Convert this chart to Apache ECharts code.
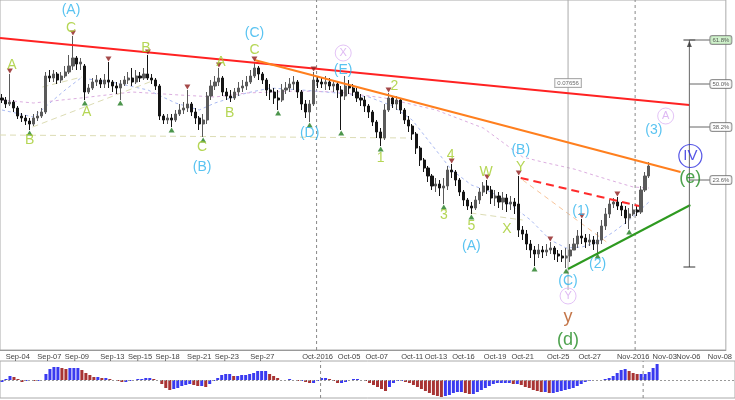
<!DOCTYPE html>
<html><head><meta charset="utf-8">
<script src="https://cdn.jsdelivr.net/npm/echarts@6/dist/echarts.min.js"></script>
<style>html,body{margin:0;padding:0;background:#fff}#c{width:735px;height:400px}</style>
</head><body><div id="c"></div>
<script>
// price bars: [open, close, low, high]
const ohlc = [
[0.7902,0.7900,0.7897,0.7906],[0.7900,0.7896,0.7892,0.7903],[0.7896,0.7898,0.7894,0.7926],[0.7898,0.7892,0.7888,0.7900],
[0.7892,0.7884,0.7881,0.7894],[0.7884,0.7882,0.7878,0.7887],[0.7882,0.7879,0.7875,0.7885],[0.7879,0.7876,0.7870,0.7882],
[0.7876,0.7882,0.7874,0.7886],[0.7882,0.7884,0.7879,0.7889],[0.7884,0.7888,0.7882,0.7892],[0.7888,0.7924,0.7886,0.7928],
[0.7924,0.7922,0.7918,0.7930],[0.7922,0.7926,0.7918,0.7930],[0.7926,0.7920,0.7916,0.7928],[0.7920,0.7924,0.7917,0.7928],
[0.7924,0.7928,0.7922,0.7934],[0.7928,0.7934,0.7926,0.7945],[0.7934,0.7942,0.7930,0.7964],[0.7942,0.7936,0.7930,0.7944],
[0.7936,0.7938,0.7930,0.7942],[0.7934,0.7908,0.7900,0.7936],[0.7908,0.7912,0.7906,0.7916],[0.7912,0.7918,0.7910,0.7922],
[0.7918,0.7920,0.7914,0.7925],[0.7920,0.7916,0.7912,0.7922],[0.7916,0.7920,0.7912,0.7926],[0.7920,0.7918,0.7912,0.7938],
[0.7918,0.7914,0.7908,0.7920],[0.7914,0.7912,0.7906,0.7918],[0.7912,0.7916,0.7900,0.7920],[0.7916,0.7920,0.7914,0.7924],
[0.7920,0.7922,0.7916,0.7928],[0.7922,0.7918,0.7914,0.7932],[0.7918,0.7924,0.7916,0.7930],[0.7924,0.7922,0.7918,0.7928],
[0.7922,0.7926,0.7920,0.7932],[0.7926,0.7922,0.7920,0.7945],[0.7922,0.7920,0.7916,0.7926],[0.7920,0.7914,0.7910,0.7922],
[0.7914,0.7884,0.7880,0.7916],[0.7884,0.7880,0.7876,0.7886],[0.7880,0.7882,0.7876,0.7886],[0.7882,0.7880,0.7873,0.7886],
[0.7880,0.7886,0.7878,0.7890],[0.7886,0.7890,0.7884,0.7896],[0.7890,0.7892,0.7886,0.7898],[0.7892,0.7896,0.7888,0.7910],
[0.7896,0.7888,0.7884,0.7898],[0.7888,0.7882,0.7876,0.7892],[0.7882,0.7876,0.7870,0.7884],[0.7876,0.7880,0.7863,0.7886],
[0.7880,0.7904,0.7876,0.7908],[0.7904,0.7914,0.7900,0.7920],[0.7914,0.7918,0.7910,0.7924],[0.7918,0.7922,0.7914,0.7932],
[0.7922,0.7908,0.7904,0.7924],[0.7908,0.7904,0.7900,0.7912],[0.7904,0.7902,0.7898,0.7910],[0.7902,0.7908,0.7900,0.7912],
[0.7908,0.7912,0.7904,0.7918],[0.7912,0.7914,0.7908,0.7920],[0.7914,0.7918,0.7910,0.7924],[0.7918,0.7924,0.7916,0.7930],
[0.7924,0.7932,0.7922,0.7938],[0.7932,0.7926,0.7920,0.7934],[0.7926,0.7920,0.7916,0.7928],[0.7920,0.7910,0.7904,0.7922],
[0.7910,0.7908,0.7900,0.7916],[0.7908,0.7902,0.7896,0.7912],[0.7902,0.7900,0.7890,0.7910],[0.7900,0.7910,0.7898,0.7916],
[0.7910,0.7912,0.7906,0.7918],[0.7912,0.7916,0.7908,0.7922],[0.7916,0.7918,0.7910,0.7924],[0.7918,0.7908,0.7902,0.7920],
[0.7908,0.7896,0.7890,0.7910],[0.7896,0.7888,0.7882,0.7900],[0.7888,0.7896,0.7878,0.7900],[0.7896,0.7920,0.7894,0.7928],
[0.7920,0.7918,0.7912,0.7924],[0.7918,0.7916,0.7912,0.7922],[0.7916,0.7918,0.7910,0.7924],[0.7918,0.7914,0.7910,0.7922],
[0.7914,0.7916,0.7908,0.7920],[0.7916,0.7910,0.7902,0.7918],[0.7910,0.7904,0.7870,0.7914],[0.7904,0.7914,0.7900,0.7924],
[0.7914,0.7912,0.7906,0.7920],[0.7912,0.7908,0.7904,0.7916],[0.7908,0.7902,0.7898,0.7912],[0.7902,0.7900,0.7894,0.7906],
[0.7900,0.7894,0.7888,0.7904],[0.7894,0.7888,0.7882,0.7896],[0.7888,0.7878,0.7874,0.7890],[0.7878,0.7868,0.7862,0.7880],
[0.7868,0.7862,0.7854,0.7872],[0.7862,0.7890,0.7860,0.7896],[0.7890,0.7902,0.7888,0.7907],[0.7902,0.7896,0.7892,0.7904],
[0.7896,0.7900,0.7890,0.7904],[0.7900,0.7890,0.7886,0.7902],[0.7890,0.7880,0.7876,0.7892],[0.7880,0.7874,0.7868,0.7884],
[0.7874,0.7866,0.7860,0.7876],[0.7866,0.7852,0.7846,0.7868],[0.7852,0.7840,0.7834,0.7854],[0.7840,0.7832,0.7828,0.7842],
[0.7832,0.7824,0.7818,0.7834],[0.7824,0.7814,0.7810,0.7826],[0.7814,0.7816,0.7808,0.7822],[0.7816,0.7812,0.7804,0.7820],
[0.7812,0.7814,0.7796,0.7822],[0.7814,0.7830,0.7810,0.7834],[0.7830,0.7828,0.7822,0.7836],[0.7828,0.7820,0.7814,0.7830],
[0.7820,0.7808,0.7804,0.7822],[0.7808,0.7800,0.7794,0.7810],[0.7800,0.7794,0.7790,0.7802],[0.7794,0.7792,0.7786,0.7798],
[0.7792,0.7800,0.7790,0.7804],[0.7800,0.7808,0.7796,0.7812],[0.7808,0.7814,0.7804,0.7818],[0.7814,0.7810,0.7806,0.7820],
[0.7810,0.7802,0.7796,0.7814],[0.7802,0.7804,0.7794,0.7810],[0.7804,0.7798,0.7792,0.7808],[0.7798,0.7802,0.7790,0.7808],
[0.7802,0.7796,0.7788,0.7806],[0.7796,0.7798,0.7790,0.7804],[0.7798,0.7794,0.7786,0.7802],[0.7796,0.7770,0.7763,0.7824],
[0.7770,0.7766,0.7760,0.7774],[0.7766,0.7756,0.7750,0.7770],[0.7756,0.7750,0.7742,0.7760],[0.7750,0.7746,0.7734,0.7754],
[0.7746,0.7750,0.7742,0.7756],[0.7750,0.7748,0.7742,0.7754],[0.7748,0.7750,0.7744,0.7756],[0.7750,0.7752,0.7746,0.7758],
[0.7752,0.7746,0.7740,0.7754],[0.7746,0.7744,0.7738,0.7750],[0.7744,0.7742,0.7738,0.7750],[0.7742,0.7744,0.7732,0.7752],
[0.7744,0.7750,0.7738,0.7756],[0.7750,0.7756,0.7750,0.7762],[0.7756,0.7764,0.7752,0.7770],[0.7764,0.7762,0.7756,0.7781],
[0.7762,0.7758,0.7752,0.7766],[0.7758,0.7760,0.7754,0.7766],[0.7760,0.7756,0.7750,0.7764],[0.7756,0.7760,0.7747,0.7768],
[0.7760,0.7774,0.7756,0.7780],[0.7774,0.7786,0.7770,0.7792],[0.7786,0.7796,0.7782,0.7800],[0.7796,0.7798,0.7792,0.7802],
[0.7798,0.7794,0.7790,0.7803],[0.7794,0.7790,0.7784,0.7798],[0.7790,0.7782,0.7776,0.7794],[0.7782,0.7786,0.7771,0.7792],
[0.7786,0.7790,0.7784,0.7796],[0.7790,0.7788,0.7784,0.7794],[0.7788,0.7810,0.7786,0.7814],[0.7810,0.7824,0.7808,0.7828],
[0.7824,0.7834,0.7822,0.7838]
];
// oscillator histogram, one value per bar
const macd = [
-0.0002,0.0001,0.0004,0.0003,0.0001,-0.0002,-0.0001,0.0000,-0.0001,-0.0001,0.0000,0.0006,0.0011,0.0013,0.0013,0.0012,
0.0011,0.0012,0.0012,0.0012,0.0010,0.0007,0.0005,0.0003,0.0003,0.0002,0.0002,0.0001,0.0000,-0.0001,-0.0002,-0.0002,
-0.0001,0.0000,0.0001,0.0001,0.0002,0.0002,0.0001,0.0000,-0.0004,-0.0008,-0.0010,-0.0009,-0.0008,-0.0006,-0.0005,-0.0004,
-0.0005,-0.0006,-0.0006,-0.0007,-0.0004,-0.0001,0.0002,0.0005,0.0006,0.0006,0.0004,0.0004,0.0005,0.0005,0.0006,0.0007,
0.0009,0.0009,0.0009,0.0006,0.0004,0.0002,0.0000,0.0000,0.0001,0.0000,-0.0001,-0.0001,-0.0002,-0.0003,-0.0003,-0.0001,
0.0002,0.0002,0.0001,-0.0001,-0.0003,-0.0003,-0.0002,0.0000,0.0001,0.0001,0.0000,-0.0001,-0.0003,-0.0005,-0.0007,-0.0009,
-0.0011,-0.0007,-0.0003,-0.0001,-0.0001,-0.0002,-0.0003,-0.0005,-0.0007,-0.0009,-0.0011,-0.0013,-0.0015,-0.0016,-0.0017,-0.0016,
-0.0015,-0.0013,-0.0012,-0.0012,-0.0013,-0.0014,-0.0014,-0.0012,-0.0010,-0.0008,-0.0006,-0.0004,-0.0003,-0.0003,-0.0003,-0.0003,
-0.0004,-0.0004,-0.0005,-0.0007,-0.0008,-0.0010,-0.0011,-0.0012,-0.0012,-0.0013,-0.0013,-0.0012,-0.0011,-0.0010,-0.0009,-0.0008,
-0.0006,-0.0004,-0.0002,-0.0001,0.0000,0.0000,0.0000,0.0001,0.0002,0.0004,0.0007,0.0010,0.0011,0.0009,0.0007,0.0006,
0.0006,0.0006,0.0008,0.0012,0.0016
];
const totalBars = 184;
const dateLabels = ['Sep-04','Sep-07','Sep-09','Sep-13','Sep-15','Sep-18','Sep-21','Sep-23','Sep-27','Oct-2016','Oct-05','Oct-07','Oct-11','Oct-13','Oct-16','Oct-19','Oct-21','Oct-25','Oct-27','Nov-2016','Nov-03','Nov-06','Nov-08'];
const dateBars = [4,12,19,28,35,42,50,57,66,80,88,95,104,110,117,125,132,141,149,160,168,174,182];
const periodSeparators = [79.75, 160.5];
// moving averages [bar, price]
const fastMA = [[0,0.7890],[8,0.7883],[16,0.7910],[20,0.7922],[29,0.7917],[37,0.7910],[44,0.7897],[50,0.7890],[54,0.7897],[62,0.7907],[68,0.7912],[76,0.7910],[85,0.7907],[93,0.7903],[99,0.7894],[104,0.7880],[109,0.7855],[114,0.7830],[119,0.7815],[124,0.7808],[129,0.7795],[134,0.7780],[139,0.7760],[143,0.7752],[147,0.7753],[151,0.7758],[155,0.7768],[159,0.7780],[164,0.7798]];
const slowMA = [[0,0.7900],[8,0.7897],[20,0.7902],[33,0.7908],[45,0.7905],[54,0.7903],[62,0.7907],[75,0.7909],[85,0.7908],[97,0.7902],[110,0.7890],[122,0.7872],[132,0.7843],[137,0.7838],[145,0.7831],[154,0.7820],[160,0.7813],[164,0.7812]];
const peakBars = [2,18,27,37,47,55,64,79,98,114,123,131,139,147,156];
const troughBars = [7,21,30,43,51,70,78,86,96,112,119,135,143,151,159];
// wave labels [text, bar, price]
const minorLabels = [['A',2.5,0.7935],['C',17.5,0.7972],['B',7,0.7860],['A',21.5,0.7888],['B',36.5,0.7952],['C',50.75,0.7853],['A',55.5,0.7938],['B',57.75,0.7887],['C',64,0.7950],['2',99.5,0.7914],['1',96,0.7842],['4',113.75,0.7845],['3',112,0.7785],['5',119,0.7774],['W',122.75,0.7828],['X',128,0.7771],['Y',131.5,0.7833]];
const intermediateLabels = [['(A)',17.5,0.7990],['(B)',50.75,0.7833],['(C)',64,0.7967],['(D)',78,0.7867],['(E)',86.5,0.7930],['(A)',119,0.7754],['(B)',131.5,0.7850],['(1)',146.75,0.7789],['(2)',151,0.7736],['(C)',143.5,0.7719],['(3)',165.25,0.7870]];
const circledLabels = [['X',86.5,0.7947],['Y',143.5,0.7704],['A',168.25,0.7884]];
const primaryLabels = [['IV',174.5,0.7844]];
const cycleLabels = [['y',143.5,0.7683]];
const triangleLabels = [['(d)',143.5,0.7660],['(e)',174.5,0.7822]];
// trend lines [[bar, price],[bar, price]]
const resistanceLine = [[-0.5,0.7962],[174.25,0.7895]];
const triangleTop = [[64,0.7940],[172,0.7828]];
const triangleBottom = [[143.5,0.7731],[174.5,0.7795]];
const channelTop = [[131.5,0.7822],[161.5,0.7794]];
const faintLine = [[132,0.7820],[153.25,0.7758]];
const guideLines = [[[-0.5,0.7865],[103.75,0.7862]],[[7.75,0.7873],[38.75,0.7920]],[[10.25,0.7913],[20.25,0.7923]],[[118.75,0.7787],[132,0.7780]]];
const measureLine = [[143.5,0.8000],[143.5,0.7710]];
const measureText = ['0.07656', 143.5, 0.7917];
const fibBar = 174.25;
const fibTop = 0.7960, fibBase = 0.7733;
const fibLevels = ['61.8%','50.0%','38.2%','23.6%'];
const fibPrices = [0.7960,0.7916,0.7873,0.7820];

const labelMap = {};
dateBars.forEach((b, k) => labelMap[b] = dateLabels[k]);
const categories = Array.from({length: totalBars}, (_, i) => 'b' + i);
const FONT = 'Liberation Sans, Arial, sans-serif';

function textSeries(list, color, size, extra) {
  return Object.assign({
    type: 'scatter', xAxisIndex: 1, yAxisIndex: 0, symbolSize: 1, z: 10, silent: true,
    itemStyle: {color: 'transparent'},
    label: {show: true, position: 'inside', color: color, fontSize: size, fontFamily: FONT, formatter: p => p.data[2]},
    data: list.map(d => [d[1], d[2], d[0]])
  }, extra || {});
}
function lineSeries(pts, color, width, type, z) {
  return {type: 'line', xAxisIndex: 1, yAxisIndex: 0, data: pts, symbol: 'none', silent: true, z: z || 5,
    lineStyle: {color: color, width: width, type: type || 'solid'}};
}

const series = [];
series.push({type: 'candlestick', xAxisIndex: 0, yAxisIndex: 0, data: ohlc, barWidth: 2.6, z: 3,
  itemStyle: {color: '#5a5a5a', color0: '#151515', borderColor: '#5a5a5a', borderColor0: '#151515', borderWidth: 1}});
series.push(lineSeries(fastMA, '#a9b9f2', 1, [3,3], 2));
series.push(lineSeries(slowMA, '#dcaee0', 1, [3,3], 2));
guideLines.forEach(g => series.push(lineSeries(g, '#dcdcb4', 1, [6,4], 2)));
series.push(lineSeries(faintLine, '#f8c49a', 1, [5,4], 2));
periodSeparators.forEach(b => series.push(lineSeries([[b,0.765],[b,0.8]], '#888', 1, [3,3], 1)));
series.push(lineSeries(measureLine, '#aaa', 1, 'solid', 4));
series.push(lineSeries(resistanceLine, '#ff2222', 2));
series.push(lineSeries(triangleTop, '#ff7f1e', 2));
series.push(lineSeries(triangleBottom, '#2e9a20', 2));
series.push(lineSeries(channelTop, '#ff2a2a', 2, [8,5]));
// fib tool
series.push(lineSeries([[fibBar, fibTop],[fibBar, fibBase]], '#666', 1, 'solid', 6));
series.push(lineSeries([[fibBar-1.5, fibTop],[fibBar+1.5, fibTop]], '#333', 1, 'solid', 6));
series.push(lineSeries([[fibBar-1.5, fibBase],[fibBar+1.5, fibBase]], '#333', 1, 'solid', 6));
fibPrices.forEach(p => series.push(lineSeries([[fibBar, p],[fibBar+5.2, p]], '#666', 1, 'solid', 6)));
series.push({type: 'scatter', xAxisIndex: 1, yAxisIndex: 0, symbol: 'triangle', symbolSize: [5,6], symbolOffset: [0, 4],
  itemStyle: {color: '#333'}, data: [[fibBar, fibTop]], z: 7, silent: true});
series.push({type: 'scatter', xAxisIndex: 1, yAxisIndex: 0, symbolSize: 1, z: 8, silent: true, itemStyle: {color: 'transparent'},
  label: {show: true, position: 'right', distance: 0, fontSize: 6, fontFamily: FONT, color: '#333', backgroundColor: '#fff', borderColor: '#777', borderWidth: 1, padding: [1,2], borderRadius: 2,
    formatter: p => p.value[2]},
  data: fibLevels.map((t, k) => ({value: [fibBar + 5.2, fibPrices[k], t], label: k === 0 ? {backgroundColor: '#c6efc0'} : {}}))});
series.push({type: 'scatter', xAxisIndex: 1, yAxisIndex: 0, symbolSize: 1, z: 8, silent: true, itemStyle: {color: 'transparent'},
  label: {show: true, position: 'inside', fontSize: 6, fontFamily: FONT, color: '#444', backgroundColor: '#fff', borderColor: '#999', borderWidth: 1, padding: [1,2],
    formatter: p => p.data[2]},
  data: [[measureText[1], measureText[2], measureText[0]]]});
// swing markers
series.push({type: 'scatter', xAxisIndex: 1, yAxisIndex: 0, symbol: 'triangle', symbolRotate: 180, symbolSize: [6,5], symbolOffset: [0,-3],
  itemStyle: {color: '#8e1b1b'}, z: 9, silent: true, data: peakBars.map(i => [i, ohlc[i][3]])});
series.push({type: 'scatter', xAxisIndex: 1, yAxisIndex: 0, symbol: 'triangle', symbolSize: [6,5], symbolOffset: [0,3],
  itemStyle: {color: '#1f7a1f'}, z: 9, silent: true, data: troughBars.map(i => [i, ohlc[i][2]])});
// labels
series.push(textSeries(minorLabels, '#a2cc2a', 14));
series.push(textSeries(intermediateLabels, '#2fb4ee', 14));
series.push(textSeries(circledLabels, '#d6a8f0', 11, {symbol: 'circle', symbolSize: 16, itemStyle: {color: 'transparent', borderColor: '#dcb4f4', borderWidth: 1}}));
series.push(textSeries(primaryLabels, '#2b2be0', 15, {symbol: 'circle', symbolSize: 23, itemStyle: {color: 'transparent', borderColor: '#2b2be0', borderWidth: 1.2}}));
series.push(textSeries(cycleLabels, '#b5541c', 18));
series.push(textSeries(triangleLabels, '#228b22', 18));
// oscillator
series.push({type: 'bar', xAxisIndex: 2, yAxisIndex: 1, barWidth: 3, silent: true,
  data: macd.map((v, i) => ({value: v, itemStyle: {color: (i > 0 && v < macd[i-1]) ? '#a83434' : '#3a3af0'}})),
  markLine: {symbol: 'none', silent: true, label: {show: false}, lineStyle: {color: '#999', type: [2,2], width: 1}, data: [{yAxis: 0}]}});
periodSeparators.forEach(b => series.push({type: 'line', xAxisIndex: 3, yAxisIndex: 1, symbol: 'none', silent: true,
  data: [[b,-0.0018],[b,0.0019]], lineStyle: {color: '#888', width: 1, type: [3,3]}}));

const chart = echarts.init(document.getElementById('c'), null, {renderer: 'canvas'});
chart.setOption({
  animation: false,
  backgroundColor: '#fff',
  grid: [
    {left: 0, right: 0, top: 0, height: 350, show: true, borderColor: '#aaa', borderWidth: 1},
    {left: 0, right: 0, top: 361, height: 37, show: true, borderColor: '#aaa', borderWidth: 1}
  ],
  xAxis: [
    {type: 'category', gridIndex: 0, data: categories, boundaryGap: true,
      axisLine: {lineStyle: {color: '#999'}},
      axisTick: {alignWithLabel: true, interval: (idx) => idx in labelMap, length: 3, lineStyle: {color: '#777'}},
      axisLabel: {interval: (idx) => idx in labelMap, formatter: (v, idx) => labelMap[idx] || '', fontSize: 7.5, color: '#444', margin: 3, fontFamily: FONT},
      splitLine: {show: false}},
    {type: 'value', gridIndex: 0, min: -0.5, max: totalBars - 0.5, show: false},
    {type: 'category', gridIndex: 1, data: categories, show: false},
    {type: 'value', gridIndex: 1, min: -0.5, max: totalBars - 0.5, show: false}
  ],
  yAxis: [
    {type: 'value', gridIndex: 0, min: 0.765, max: 0.8, show: false, splitLine: {show: false}},
    {type: 'value', gridIndex: 1, min: -0.0018, max: 0.0019, show: false, splitLine: {show: false}}
  ],
  series: series
});
</script></body></html>
